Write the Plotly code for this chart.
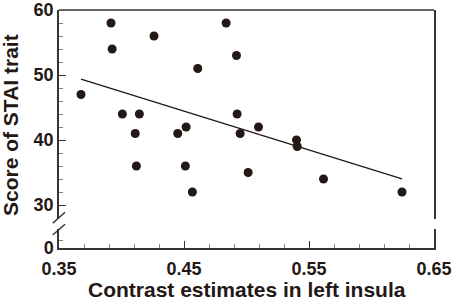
import numpy as np
import plotly.graph_objects as go

# Data
contrast = [0.3676, 0.3916, 0.3925, 0.4007, 0.4110, 0.4119, 0.4143, 0.4260,
            0.4450, 0.4511, 0.4517, 0.4567, 0.4610, 0.4837, 0.4920, 0.4925,
            0.4949, 0.5013, 0.5096, 0.5400, 0.5406, 0.5616, 0.6244]
stai = [47, 58, 54, 44, 41, 36, 44, 56,
        41, 36, 42, 32, 51, 58, 53, 44,
        41, 35, 42, 40, 39, 34, 32]

x_ticks = [0.35, 0.45, 0.55, 0.65]
x_ticklabels = ["0.35", "0.45", "0.55", "0.65"]
y_ticks_upper = [30, 40, 50, 60]
y_ticks_lower = [0]
x_title = "Contrast estimates in left insula"
y_title = "Score of STAI trait"

# Regression line
slope, intercept = np.polyfit(contrast, stai, 1)
fit_x = [min(contrast), max(contrast)]
fit_y = [slope * v + intercept for v in fit_x]

ink = "#231815"
axis_col = "#3a3232"
minor_col = "#8a8484"
tick_font = dict(family="Liberation Sans, Arial, sans-serif", size=18, color=ink, weight="bold")
title_font = dict(family="Liberation Sans, Arial, sans-serif", size=21, color=ink, weight="bold")

W, H = 454, 302
ml, mr, mt, mb = 59, 20, 10, 54
ph = H - mt - mb
pw = W - ml - mr

def py2paper(py):
    return (H - mb - py) / ph

def px2paper(px):
    return (px - ml) / pw

fig = go.Figure()
# empty trace so the lower (broken) y-axis subplot exists
fig.add_trace(go.Scatter(x=[None], y=[None], mode="markers", xaxis="x", yaxis="y",
                         showlegend=False, hoverinfo="skip"))
fig.add_trace(go.Scatter(x=fit_x, y=fit_y, mode="lines", xaxis="x", yaxis="y2",
                         line=dict(color=ink, width=1.3), showlegend=False, hoverinfo="skip"))
fig.add_trace(go.Scatter(x=contrast, y=stai, mode="markers", xaxis="x", yaxis="y2",
                         marker=dict(color=ink, size=9), showlegend=False))

top_gap = 218.5
bot_gap = 228.5
upper_lo = 60 - (top_gap - mt) / 6.5
lower_hi = (H - mb - bot_gap) / 8.0

common_axis = dict(showline=True, linecolor=axis_col, linewidth=1.5, ticks="inside",
                   tickcolor=axis_col, tickwidth=1, ticklen=7, showgrid=False,
                   zeroline=False, tickfont=tick_font, automargin=False)

fig.update_layout(
    width=W, height=H,
    margin=dict(l=ml, r=mr, t=mt, b=mb),
    paper_bgcolor="white", plot_bgcolor="white",
    xaxis=dict(range=[0.35, 0.65], tickvals=x_ticks, ticktext=x_ticklabels,
               anchor="y", domain=[0, 1], ticklabelstandoff=4,
               minor=dict(tickmode="array", tickvals=[0.37, 0.39, 0.41, 0.43, 0.47, 0.49, 0.51,
                                                     0.53, 0.57, 0.59, 0.61, 0.63],
                          ticks="inside", ticklen=4, tickcolor=minor_col, tickwidth=1),
               **common_axis),
    yaxis=dict(range=[0, lower_hi], domain=[0, py2paper(bot_gap)], anchor="x",
               tickvals=y_ticks_lower, ticktext=["0"], mirror=True,
               minor=dict(tickmode="array", tickvals=[1], ticks="inside", ticklen=4,
                          tickcolor=minor_col, tickwidth=1),
               **common_axis),
    yaxis2=dict(range=[upper_lo, 60], domain=[py2paper(top_gap), 1], anchor="x",
                tickvals=y_ticks_upper, mirror=True,
                minor=dict(tickmode="array", tickvals=list(range(32, 60, 2)), ticks="inside",
                           ticklen=4, tickcolor=minor_col, tickwidth=1),
                **common_axis),
    annotations=[
        dict(text=x_title, xref="paper", yref="paper", x=0.5, y=py2paper(289),
             xanchor="center", yanchor="middle", showarrow=False, font=title_font),
        dict(text=y_title, xref="paper", yref="paper", x=px2paper(11), y=py2paper(125),
             xanchor="center", yanchor="middle", showarrow=False, font=title_font,
             textangle=-90),
    ],
)

# top border
fig.add_shape(type="line", xref="paper", yref="paper", x0=0, x1=1, y0=1, y1=1,
              line=dict(color=axis_col, width=1.5))
# break marks
for (ya, yb) in [(223.3, 212.3), (235.0, 224.3)]:
    fig.add_shape(type="line", xref="paper", yref="paper",
                  x0=px2paper(52.7), y0=py2paper(ya), x1=px2paper(65), y1=py2paper(yb),
                  line=dict(color=axis_col, width=1.5))

fig.write_html("out.html", config={"displayModeBar": False},
               post_script="document.body.style.margin='0';")
